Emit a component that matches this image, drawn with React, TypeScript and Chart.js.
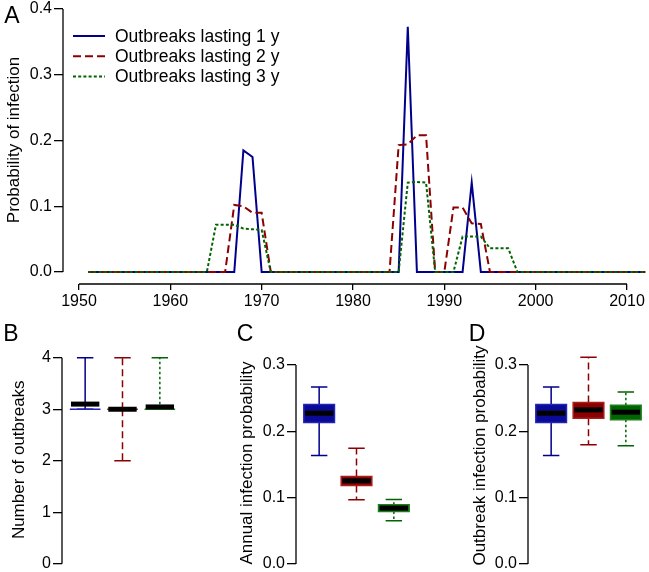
import React, { useEffect, useRef } from "react";
import { Chart, registerables } from "chart.js";
Chart.register(...registerables);

const FONT = "'Liberation Sans', Arial, Helvetica, sans-serif";

// ---------- Panel A data ----------
const YEARS = [
  1951, 1952, 1953, 1954, 1955, 1956, 1957, 1958, 1959, 1960,
  1961, 1962, 1963, 1964, 1965, 1966, 1967, 1968, 1969, 1970,
  1971, 1972, 1973, 1974, 1975, 1976, 1977, 1978, 1979, 1980,
  1981, 1982, 1983, 1984, 1985, 1986, 1987, 1988, 1989, 1990,
  1991, 1992, 1993, 1994, 1995, 1996, 1997, 1998, 1999, 2000,
  2001, 2002, 2003, 2004, 2005, 2006, 2007, 2008, 2009, 2010,
  2011, 2012,
];
const OUTBREAKS_1Y = [
  0, 0, 0, 0, 0, 0, 0, 0, 0, 0,
  0, 0, 0, 0, 0, 0, 0, 0.185, 0.175, 0,
  0, 0, 0, 0, 0, 0, 0, 0, 0, 0,
  0, 0, 0, 0, 0, 0.373, 0, 0, 0, 0,
  0, 0, 0.136, 0, 0, 0, 0, 0, 0, 0,
  0, 0, 0, 0, 0, 0, 0, 0, 0, 0,
  0, 0,
];
const OUTBREAKS_2Y = [
  0, 0, 0, 0, 0, 0, 0, 0, 0, 0,
  0, 0, 0, 0, 0, 0, 0.102, 0.1, 0.09, 0.09,
  0, 0, 0, 0, 0, 0, 0, 0, 0, 0,
  0, 0, 0, 0, 0.193, 0.194, 0.208, 0.208, 0, 0,
  0.098, 0.098, 0.074, 0.073, 0, 0, 0, 0, 0, 0,
  0, 0, 0, 0, 0, 0, 0, 0, 0, 0,
  0, 0,
];
const OUTBREAKS_3Y = [
  0, 0, 0, 0, 0, 0, 0, 0, 0, 0,
  0, 0, 0, 0, 0.072, 0.072, 0.072, 0.066, 0.065, 0.064,
  0, 0, 0, 0, 0, 0, 0, 0, 0, 0,
  0, 0, 0, 0, 0, 0.136, 0.137, 0.136, 0, 0,
  0, 0.054, 0.054, 0.054, 0.036, 0.036, 0.036, 0, 0, 0,
  0, 0, 0, 0, 0, 0, 0, 0, 0, 0,
  0, 0,
];
const SERIES_LABELS = ["Outbreaks lasting 1 y", "Outbreaks lasting 2 y", "Outbreaks lasting 3 y"];
const X_TICKS_A = [1950, 1960, 1970, 1980, 1990, 2000, 2010];
const Y_TICKS_A = [0, 0.1, 0.2, 0.3, 0.4];

// ---------- Box panels: [min, q1, median, q3, max] ----------
const B_NUMBER_OF_OUTBREAKS = [
  [3, 3, 3.1, 3, 4],
  [2, 3, 3, 3, 4],
  [3, 3, 3.045, 3, 4],
];
const C_ANNUAL_PROBABILITY = [
  [0.1635, 0.2132, 0.2273, 0.2405, 0.2668],
  [0.0968, 0.1184, 0.1254, 0.132, 0.1746],
  [0.0652, 0.0793, 0.0843, 0.0893, 0.0973],
];
const D_OUTBREAK_PROBABILITY = [
  [0.1635, 0.2132, 0.2273, 0.2405, 0.2668],
  [0.1796, 0.2198, 0.2323, 0.2434, 0.3116],
  [0.1781, 0.2173, 0.2288, 0.2393, 0.2594],
];
const B_TICKS = [0, 1, 2, 3, 4];
const CD_TICKS = [0, 0.1, 0.2, 0.3];

const LINE_COLORS = ["#00008B", "#8B0000", "#006400"];
const BOX_FILLS = ["#0a0a96", "#8B0000", "#006400"];
const BOX_BORDERS = ["#2323b4", "#a81c1c", "#1f7f1f"];
const DASHES = [[], [8, 4], [3, 2.2]];
const WHISKER_DASHES = [[], [7, 4], [2.5, 2.5]];

// ---------- plugins ----------
const decorPlugin = {
  id: "decor",
  afterDraw(chart: any, _args: any, opts: any) {
    const ctx = chart.ctx;
    const ca = chart.chartArea;
    ctx.save();
    ctx.strokeStyle = "#000";
    ctx.lineWidth = 1.3;
    ctx.setLineDash([]);
    const ys = chart.scales.y;
    if (ys && ys.ticks.length) {
      const a = ys.getPixelForValue(ys.ticks[0].value);
      const b = ys.getPixelForValue(ys.ticks[ys.ticks.length - 1].value);
      ctx.beginPath();
      ctx.moveTo(ca.left, a);
      ctx.lineTo(ca.left, b);
      ctx.stroke();
    }
    const xs = chart.scales.x;
    if (xs && xs.options.display !== false && xs.ticks.length) {
      const a = xs.getPixelForValue(xs.ticks[0].value);
      const b = xs.getPixelForValue(xs.ticks[xs.ticks.length - 1].value);
      ctx.beginPath();
      ctx.moveTo(a, ca.bottom);
      ctx.lineTo(b, ca.bottom);
      ctx.stroke();
    }
    ctx.fillStyle = "#000";
    ctx.font = `23px ${FONT}`;
    ctx.textAlign = "center";
    ctx.textBaseline = "alphabetic";
    ctx.fillText(opts.letter, ca.left - opts.letterDx, opts.letterY);

    if (opts.legend) {
      ctx.font = `17.5px ${FONT}`;
      ctx.textAlign = "left";
      ctx.textBaseline = "middle";
      chart.data.datasets.forEach((ds: any, i: number) => {
        const y = opts.legendY + i * 20.3;
        ctx.strokeStyle = ds.borderColor;
        ctx.lineWidth = ds.borderWidth;
        ctx.setLineDash(ds.borderDash || []);
        ctx.beginPath();
        ctx.moveTo(ca.left + 10, y);
        ctx.lineTo(ca.left + 42, y);
        ctx.stroke();
        ctx.fillText(ds.label, ca.left + 52, y + 1);
      });
      ctx.setLineDash([]);
    }

    ctx.font = `17px ${FONT}`;
    ctx.textAlign = "center";
    ctx.textBaseline = "alphabetic";
    ctx.translate(ca.left - opts.titleDx, (ca.top + ca.bottom) / 2 + (opts.titleDy || 0));
    ctx.rotate(-Math.PI / 2);
    ctx.fillText(opts.title, 0, 0);
    ctx.restore();
  },
};

const boxPlugin = {
  id: "boxes",
  afterDatasetsDraw(chart: any, _args: any, opts: any) {
    if (!opts || !opts.stats) return;
    const ctx = chart.ctx;
    const xs = chart.scales.x;
    const ys = chart.scales.y;
    const py = (v: number) => ys.getPixelForValue(v);
    opts.stats.forEach((s: number[], i: number) => {
      const [mn, q1, med, q3, mx] = s;
      const pos = i + 1;
      const xc = xs.getPixelForValue(pos);
      const hw = xs.getPixelForValue(pos + 0.41) - xc;
      const cw = xs.getPixelForValue(pos + 0.22) - xc;
      const mw = xs.getPixelForValue(pos + 0.38) - xc;
      ctx.save();
      ctx.strokeStyle = LINE_COLORS[i];
      ctx.lineWidth = 1.5;
      ctx.setLineDash(WHISKER_DASHES[i]);
      ctx.beginPath();
      ctx.moveTo(xc, py(q3));
      ctx.lineTo(xc, py(mx));
      ctx.moveTo(xc, py(q1));
      ctx.lineTo(xc, py(mn));
      ctx.stroke();
      ctx.setLineDash([]);
      ctx.beginPath();
      ctx.moveTo(xc - cw, py(mx));
      ctx.lineTo(xc + cw, py(mx));
      ctx.moveTo(xc - cw, py(mn));
      ctx.lineTo(xc + cw, py(mn));
      ctx.stroke();
      const top = py(q3);
      const h = py(q1) - top;
      ctx.fillStyle = BOX_FILLS[i];
      if (h > 0) ctx.fillRect(xc - hw, top, 2 * hw, h);
      ctx.strokeStyle = BOX_BORDERS[i];
      ctx.beginPath();
      if (h > 0) {
        ctx.rect(xc - hw, top, 2 * hw, h);
      } else {
        ctx.moveTo(xc - hw, top);
        ctx.lineTo(xc + hw, top);
      }
      ctx.stroke();
      ctx.strokeStyle = "#000";
      ctx.lineWidth = 5;
      ctx.beginPath();
      ctx.moveTo(xc - mw, py(med));
      ctx.lineTo(xc + mw, py(med));
      ctx.stroke();
      ctx.restore();
    });
  },
};

function makeY(min: number, max: number, ticks: number[], width: number, fmt: (v: number) => string) {
  return {
    type: "linear",
    min,
    max,
    afterBuildTicks: (s: any) => {
      s.ticks = ticks.map((v) => ({ value: v }));
    },
    afterFit: (s: any) => {
      s.width = width;
      s.paddingTop = 0;
      s.paddingBottom = 0;
    },
    grid: { display: true, drawOnChartArea: false, drawTicks: true, tickLength: 9, color: "#000", lineWidth: 1.3 },
    border: { display: false },
    ticks: { color: "#000", font: { family: FONT, size: 16 }, padding: 2, autoSkip: false, callback: (v: any) => fmt(Number(v)) },
  };
}

function configA() {
  const series = [OUTBREAKS_1Y, OUTBREAKS_2Y, OUTBREAKS_3Y];
  return {
    type: "line",
    data: {
      datasets: series.map((vals, i) => ({
        label: SERIES_LABELS[i],
        data: YEARS.map((y, j) => ({ x: y, y: vals[j] })),
        borderColor: LINE_COLORS[i],
        backgroundColor: LINE_COLORS[i],
        borderWidth: 2,
        borderDash: DASHES[i],
        pointRadius: 0,
        tension: 0,
        fill: false,
        order: 3 - i,
      })),
    },
    options: {
      responsive: false,
      animation: false,
      layout: { padding: { top: 2, left: 0, right: 0, bottom: 0 } },
      plugins: {
        legend: { display: false },
        tooltip: { enabled: false },
        decor: { letter: "A", letterDx: 51, letterY: 23, title: "Probability of infection", titleDx: 44.5, titleDy: -3, legend: true, legendY: 36 },
      },
      scales: {
        x: {
          type: "linear",
          min: 1948.25,
          max: 2012.41,
          afterBuildTicks: (s: any) => {
            s.ticks = X_TICKS_A.map((v) => ({ value: v }));
          },
          afterFit: (s: any) => {
            s.height = 26;
            s.paddingLeft = 0;
            s.paddingRight = 0;
          },
          grid: { display: true, drawOnChartArea: false, drawTicks: true, tickLength: 6, color: "#000", lineWidth: 1.3 },
          border: { display: false },
          ticks: { color: "#000", font: { family: FONT, size: 16 }, padding: 2, autoSkip: false, maxRotation: 0, callback: (v: any) => String(v) },
        },
        y: makeY(-0.01825, 0.4107, Y_TICKS_A, 63, (v) => v.toFixed(1)),
      },
    },
    plugins: [decorPlugin],
  };
}

function configBox(stats: number[][], yMin: number, yMax: number, ticks: number[], axisW: number, padTop: number, padRight: number, fmt: (v: number) => string, letter: string, title: string, titleDx: number, titleDy: number) {
  return {
    type: "scatter",
    data: { datasets: [] },
    options: {
      responsive: false,
      animation: false,
      layout: { padding: { top: padTop, left: 0, right: padRight, bottom: 0 } },
      plugins: {
        legend: { display: false },
        tooltip: { enabled: false },
        decor: { letter, letterDx: 51, letterY: 31, title, titleDx, titleDy },
        boxes: { stats },
      },
      scales: {
        x: { type: "linear", min: 0.38, max: 3.62, display: false },
        y: makeY(yMin, yMax, ticks, axisW, fmt),
      },
    },
    plugins: [decorPlugin, boxPlugin],
  };
}

function ChartCanvas({ left, top, width, height, make }: any) {
  const ref = useRef<HTMLCanvasElement | null>(null);
  useEffect(() => {
    const chart = new Chart(ref.current as HTMLCanvasElement, make() as any);
    return () => chart.destroy();
  }, []);
  return (
    <canvas
      ref={ref}
      width={width}
      height={height}
      style={{ position: "absolute", left, top, width, height }}
    />
  );
}

export default function App() {
  return (
    <div style={{ position: "absolute", left: 0, top: 0, width: 649, height: 572, background: "#fff", overflow: "hidden" }}>
      <ChartCanvas left={0} top={0} width={649} height={310} make={configA} />
      <ChartCanvas
        left={0}
        top={310}
        width={215}
        height={262}
        make={() => configBox(B_NUMBER_OF_OUTBREAKS, -0.16, 4.16, B_TICKS, 62, 39.5, 32, (v) => String(Math.round(v)), "B", "Number of outbreaks", 38, -1)}
      />
      <ChartCanvas
        left={215}
        top={310}
        width={215}
        height={262}
        make={() => configBox(C_ANNUAL_PROBABILITY, -0.012, 0.312, CD_TICKS, 81, 47, 13, (v) => v.toFixed(1), "C", "Annual infection probability", 44.5, -1.5)}
      />
      <ChartCanvas
        left={430}
        top={310}
        width={219}
        height={262}
        make={() => configBox(D_OUTBREAK_PROBABILITY, -0.012, 0.312, CD_TICKS, 98, 47, 0, (v) => v.toFixed(1), "D", "Outbreak infection probability", 43.5, -9)}
      />
    </div>
  );
}
